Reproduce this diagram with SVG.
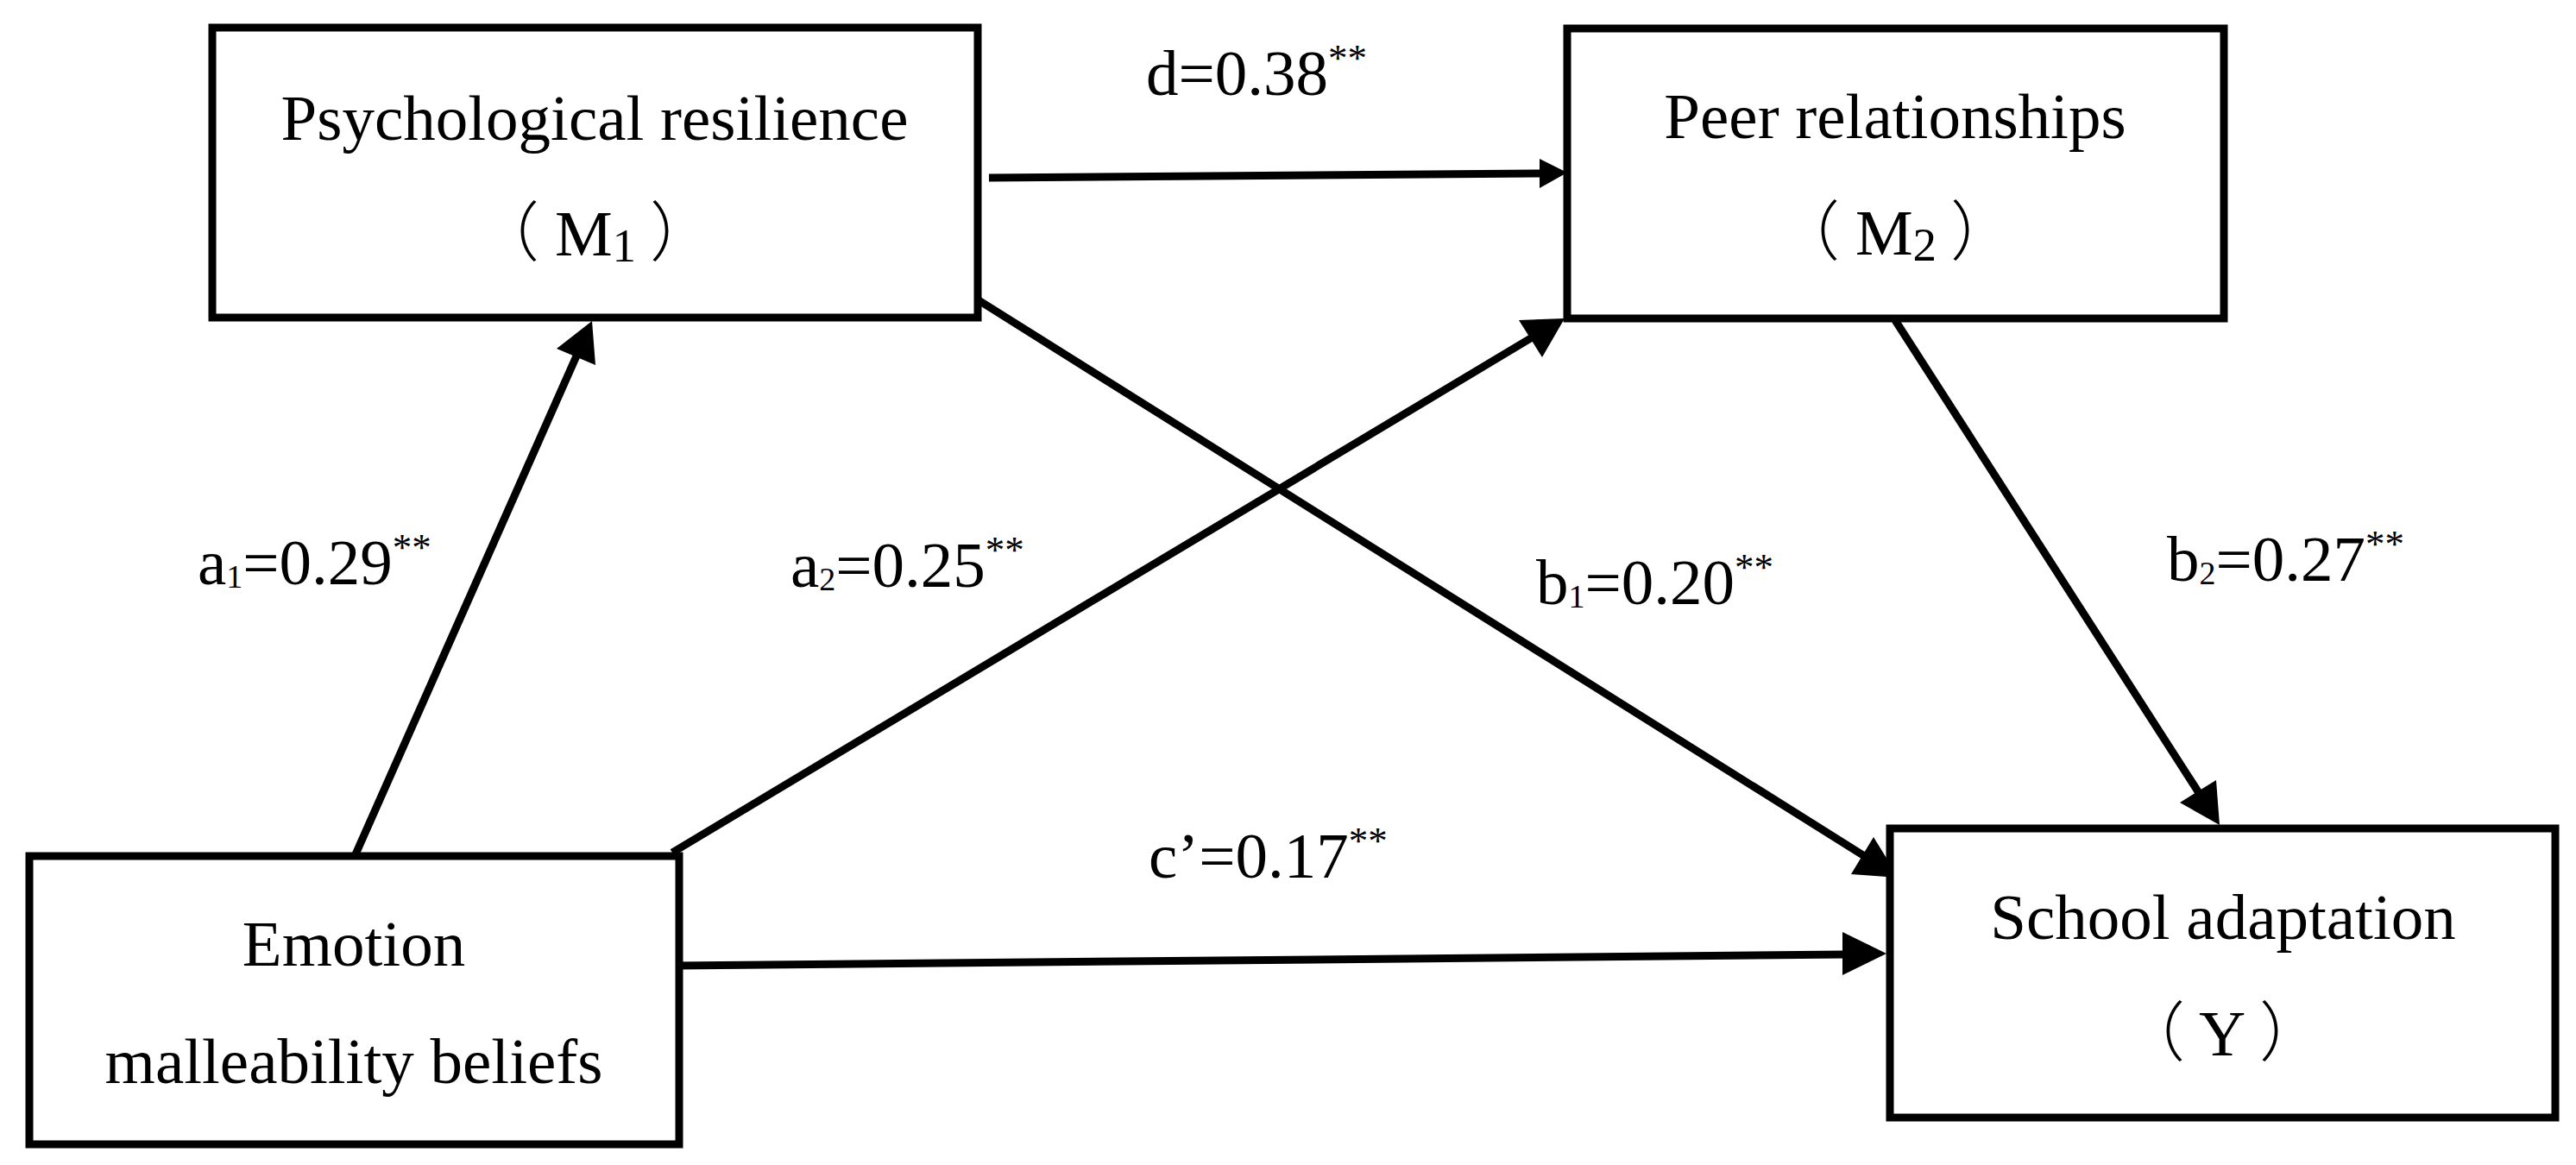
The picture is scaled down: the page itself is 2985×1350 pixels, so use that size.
<svg xmlns="http://www.w3.org/2000/svg" width="2985" height="1350" viewBox="0 0 2985 1350">
<style>
.box{fill:#fff;stroke:#000;stroke-width:9}
.ln{stroke:#000;stroke-width:9;fill:none}
.hd{fill:#000;stroke:none}
.t{font-family:"Liberation Serif","Times New Roman","Noto Sans CJK SC",serif;font-size:75px;fill:#000}
.p{font-family:"Noto Sans CJK SC","Noto Sans CJK JP",sans-serif;font-weight:300}
.sub{font-size:38px}
.bsub{font-size:55px}
.sup{font-size:45px}
</style>
<rect width="2985" height="1350" fill="#fff"/>
<g id="connectors">
  <line class="ln" x1="1146" y1="206" x2="1788" y2="201"/>
  <polygon class="hd" points="1816,200 1784,184 1784,218"/>
  <line class="ln" x1="412" y1="990" x2="670" y2="408"/>
  <polygon class="hd" points="686,372 645,404 690,423"/>
  <line class="ln" x1="779" y1="988" x2="1777" y2="390"/>
  <polygon class="hd" points="1813,369 1760,371 1787,414"/>
  <line class="ln" x1="1134" y1="348" x2="2162" y2="993"/>
  <polygon class="hd" points="2200,1017 2145,1013 2171,970"/>
  <line class="ln" x1="2196" y1="371" x2="2550" y2="922"/>
  <polygon class="hd" points="2572,956 2526,930 2568,904"/>
  <line class="ln" x1="784" y1="1119" x2="2140" y2="1106"/>
  <polygon class="hd" points="2186,1105 2135,1080 2135,1130"/>
</g>
<g id="node-m1">
  <rect class="box" x="246" y="32" width="887" height="336"/>
  <text class="t" x="689" y="162" text-anchor="middle">Psychological resilience</text>
  <text class="t" x="689" y="296" text-anchor="middle"><tspan class="p">（</tspan><tspan dx="18">M</tspan><tspan class="bsub" dy="7">1</tspan><tspan class="p" dx="16" dy="-7">）</tspan></text>
</g>
<g id="node-m2">
  <rect class="box" x="1816" y="33" width="761" height="336"/>
  <text class="t" x="2196" y="160" text-anchor="middle">Peer relationships</text>
  <text class="t" x="2196" y="295" text-anchor="middle"><tspan class="p">（</tspan><tspan dx="18">M</tspan><tspan class="bsub" dy="7">2</tspan><tspan class="p" dx="16" dy="-7">）</tspan></text>
</g>
<g id="node-x">
  <rect class="box" x="34" y="992" width="753" height="334"/>
  <text class="t" x="410" y="1119" text-anchor="middle">Emotion</text>
  <text class="t" x="410" y="1255" text-anchor="middle">malleability beliefs</text>
</g>
<g id="node-y">
  <rect class="box" x="2190" y="960" width="771" height="335"/>
  <text class="t" x="2576" y="1088" text-anchor="middle">School adaptation</text>
  <text class="t" x="2575" y="1223" text-anchor="middle"><tspan class="p">（</tspan><tspan dx="16">Y</tspan><tspan class="p" dx="16">）</tspan></text>
</g>
<g id="labels">
  <text class="t" x="1328" y="110">d=0.38<tspan class="sup" dy="-28">**</tspan></text>
  <text class="t" x="229" y="677">a<tspan class="sub" dy="4">1</tspan><tspan dy="-4">=0.29</tspan><tspan class="sup" dy="-28">**</tspan></text>
  <text class="t" x="916" y="680">a<tspan class="sub" dy="4">2</tspan><tspan dy="-4">=0.25</tspan><tspan class="sup" dy="-28">**</tspan></text>
  <text class="t" x="1780" y="700">b<tspan class="sub" dy="4">1</tspan><tspan dy="-4">=0.20</tspan><tspan class="sup" dy="-28">**</tspan></text>
  <text class="t" x="2511" y="673">b<tspan class="sub" dy="4">2</tspan><tspan dy="-4">=0.27</tspan><tspan class="sup" dy="-28">**</tspan></text>
  <text class="t" x="1331" y="1017">c’=0.17<tspan class="sup" dy="-28">**</tspan></text>
</g>
</svg>
